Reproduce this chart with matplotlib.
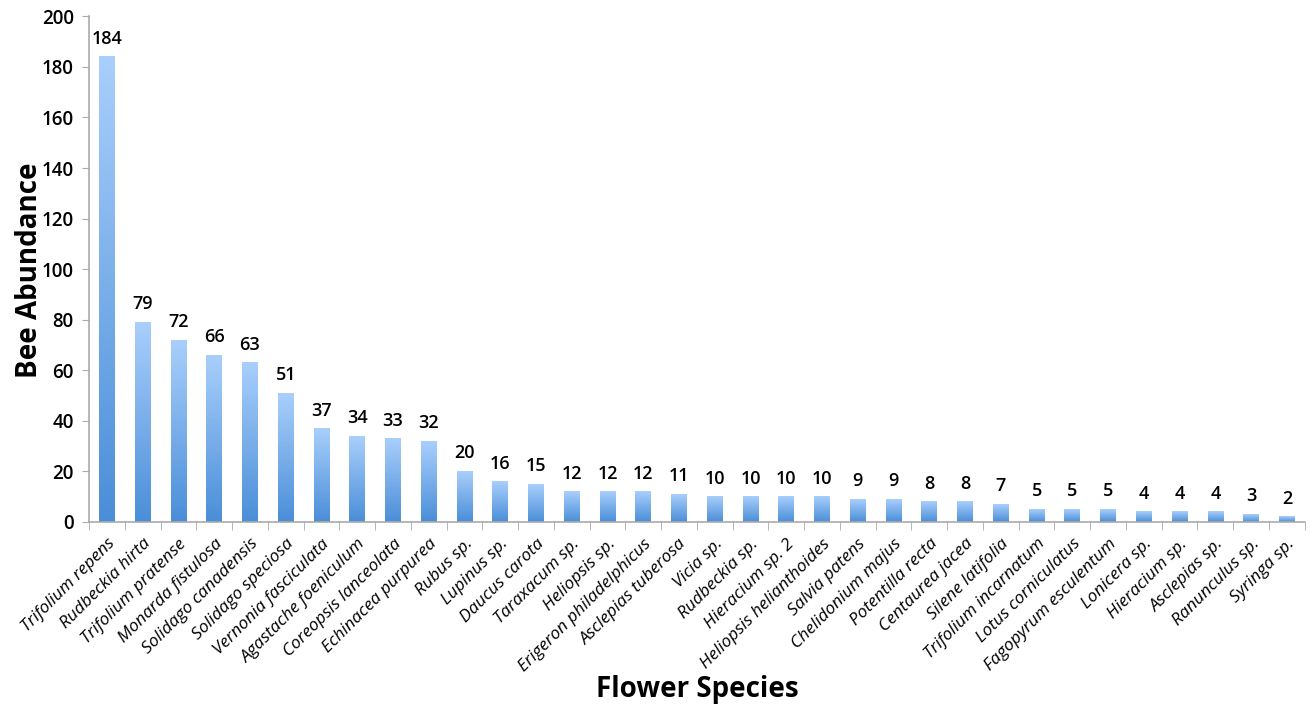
import matplotlib
matplotlib.use("Agg")
import matplotlib.pyplot as plt
import numpy as np

species = [
    "Trifolium repens", "Rudbeckia hirta", "Trifolium pratense", "Monarda fistulosa",
    "Solidago canadensis", "Solidago speciosa", "Vernonia fasciculata",
    "Agastache foeniculum", "Coreopsis lanceolata", "Echinacea purpurea",
    "Rubus sp.", "Lupinus sp.", "Daucus carota", "Taraxacum sp.", "Heliopsis sp.",
    "Erigeron philadelphicus", "Asclepias tuberosa", "Vicia sp.", "Rudbeckia sp.",
    "Hieracium sp. 2", "Heliopsis helianthoides", "Salvia patens",
    "Chelidonium majus", "Potentilla recta", "Centaurea jacea", "Silene latifolia",
    "Trifolium incarnatum", "Lotus corniculatus", "Fagopyrum esculentum",
    "Lonicera sp.", "Hieracium sp.", "Asclepias sp.", "Ranunculus sp.", "Syringa sp.",
]
abundance = [184, 79, 72, 66, 63, 51, 37, 34, 33, 32, 20, 16, 15, 12, 12, 12, 11,
             10, 10, 10, 10, 9, 9, 8, 8, 7, 5, 5, 5, 4, 4, 4, 3, 2]

plt.rcParams['font.family'] = ['Open Sans', 'DejaVu Sans']

fig = plt.figure(figsize=(13.1, 7.11), dpi=100)
ax = fig.add_axes([0.068, 0.266, 0.928, 0.711])

n = len(species)
x = np.arange(n)
width = 0.44

# vertical gradient: light at top, darker at bottom
grad = np.linspace(0, 1, 256).reshape(-1, 1)
cmap = matplotlib.colors.LinearSegmentedColormap.from_list(
    "bar", ["#4a8ed8", "#a9cffc"])

bars = ax.bar(x, abundance, width=width, color='none', edgecolor='none')
for b, v in zip(bars, abundance):
    x0 = b.get_x()
    ax.imshow(grad, extent=(x0, x0 + width, 0, v), origin='lower',
              aspect='auto', cmap=cmap, zorder=2)
    ax.text(b.get_x() + width / 2, v + 3.5, str(v), ha='center', va='bottom',
            fontsize=13, fontweight='semibold', color='black')

ax.set_xlim(-0.5, n - 0.5)
ax.set_ylim(0, 200)
ax.set_yticks(range(0, 201, 20))
ax.tick_params(axis='y', labelsize=13.5, length=5, color='#aaaaaa', pad=6)
for t in ax.get_yticklabels():
    t.set_fontweight('semibold')

ax.set_xticks(x)
ax.set_xticklabels(species, rotation=45, ha='right', rotation_mode='anchor',
                   fontsize=12.5, style='italic')
ax.tick_params(axis='x', which='major', length=0, pad=10)
ax.set_xticks(np.arange(-0.5, n, 1), minor=True)
ax.tick_params(axis='x', which='minor', length=6, color='#aaaaaa')

for s in ['top', 'right']:
    ax.spines[s].set_visible(False)
for s in ['left', 'bottom']:
    ax.spines[s].set_color('#aaaaaa')
    ax.spines[s].set_linewidth(1.2)

# axis titles placed where the reference has them
fig.text(30 / 1310, 1 - 270 / 711, "Bee Abundance", rotation=90,
         ha='center', va='center', fontsize=20, fontweight='bold')
fig.text(697 / 1310, 1 - 690 / 711, "Flower Species",
         ha='center', va='center', fontsize=20, fontweight='bold')

fig.savefig("out.png", dpi=100)
